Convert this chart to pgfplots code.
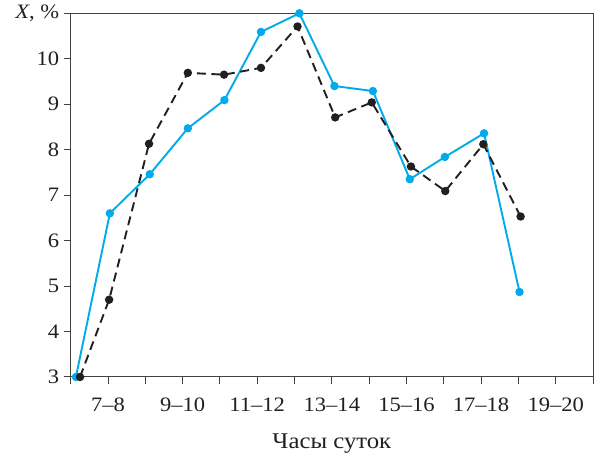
\documentclass[border=0pt]{standalone}
\usepackage{fontspec}
\setmainfont{Liberation Serif}[FakeStretch=1.1]
\usepackage{pgfplots}
\pgfplotsset{compat=1.18}
\definecolor{cyanline}{RGB}{0,170,235}
\definecolor{ink}{RGB}{35,31,32}
\begin{document}
\begin{tikzpicture}
\begin{axis}[
  name=ax,
  scale only axis,
  width=522.3pt, height=363.7pt,
  xmin=0, xmax=14, ymin=3, ymax=11,
  clip=false,
  axis line style={draw=ink!85, line width=1pt},
  xtick={1,3,...,13},
  xticklabels={7--8,9--10,11--12,13--14,15--16,17--18,19--20},
  minor xtick={0,2,...,14},
  ytick={3,4,...,11},
  yticklabels={3,4,5,6,7,8,9,10,{\textit{X}, \%}},
  tick align=outside,
  xtick pos=bottom, ytick pos=left,
  major tick length=7pt, minor tick length=7pt,
  tick style={draw=ink!85, line width=1pt},
  every tick label/.append style={text=ink, font=\fontsize{20.5}{22}\selectfont},
  xticklabel style={yshift=-10pt},
  yticklabel style={xshift=-1pt},
  xlabel={Часы суток},
  xlabel style={text=ink, font=\fontsize{22.5}{24}\selectfont, yshift=-16pt},
]
\addplot[cyanline, line width=1.9pt, mark=*, mark size=3.2pt] coordinates {
(0.14,3.0) (1.05,6.60) (2.12,7.46) (3.14,8.47) (4.12,9.09) (5.10,10.59) (6.13,11.0)
(7.07,9.40) (8.10,9.29) (9.09,7.35) (10.03,7.84) (11.08,8.36) (12.03,4.87)
};
\addplot[ink, line width=1.9pt, dash pattern=on 9pt off 5.5pt, mark=*, mark size=3.2pt, mark options={solid}] coordinates {
(0.25,3.0) (1.03,4.70) (2.10,8.13) (3.14,9.69) (4.11,9.65) (5.10,9.80) (6.08,10.71)
(7.09,8.71) (8.07,9.04) (9.12,7.63) (10.04,7.09) (11.06,8.12) (12.06,6.53)
};
\end{axis}
\path ([xshift=-70.7pt,yshift=-78pt]ax.south west) rectangle ([xshift=5pt,yshift=13.3pt]ax.north east);
\end{tikzpicture}
\end{document}
